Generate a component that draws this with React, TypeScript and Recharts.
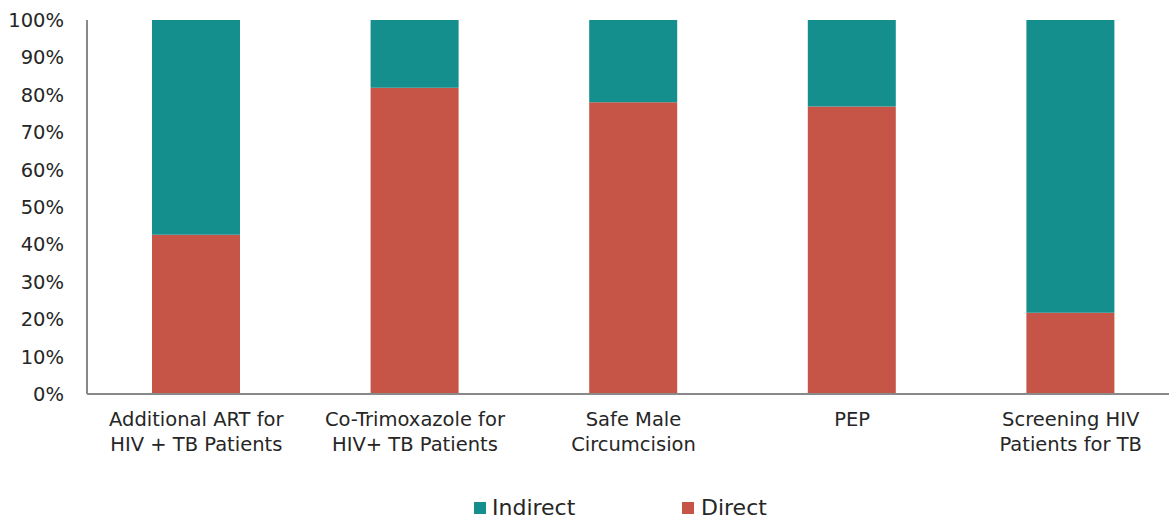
import React from "react";
import { BarChart, Bar, XAxis, YAxis, Legend } from "recharts";

const categories = [
    "Additional ART for\nHIV + TB Patients",
    "Co-Trimoxazole for\nHIV+ TB Patients",
    "Safe Male\nCircumcision",
    "PEP",
    "Screening HIV\nPatients for TB",
];
const direct = [42.6, 81.9, 78.0, 76.9, 21.7];
const indirect = [57.4, 18.1, 22.0, 23.1, 78.3];
const yTicks = [0, 10, 20, 30, 40, 50, 60, 70, 80, 90, 100];

const data = categories.map((name, i) => ({ name, direct: direct[i], indirect: indirect[i] }));

const FONT = "'DejaVu Sans', sans-serif";

const CategoryTick = (props: any) => {
    const { x, y, payload } = props;
    const lines = String(payload.value).split("\n");
    return (
        <text x={x} y={y} textAnchor="middle" fill="#262626" fontSize={19.5} fontFamily={FONT}>
            {lines.map((l, i) => (
                <tspan key={i} x={x} dy={i === 0 ? 24 : 25}>{l}</tspan>
            ))}
        </text>
    );
};

const App = () => {
    return (
        <div style={{ position: "absolute", left: 0, top: 0, width: 1169, height: 521, overflow: "hidden", background: "#fff" }}>
            <BarChart
                width={1180}
                height={521}
                data={data}
                margin={{ top: 20, right: 0, left: 0, bottom: 0 }}
                barSize={88}
            >
                <XAxis
                    dataKey="name"
                    interval={0}
                    tickLine={false}
                    axisLine={{ stroke: "#898989", strokeWidth: 2 }}
                    tick={<CategoryTick />}
                    height={93}
                />
                <YAxis
                    domain={[0, 100]}
                    ticks={yTicks}
                    tickFormatter={(v) => `${v}%`}
                    width={87}
                    tickLine={false}
                    tickSize={0}
                    tickMargin={23}
                    axisLine={{ stroke: "#898989", strokeWidth: 2 }}
                    tick={{ fontSize: 19.5, fill: "#262626", fontFamily: FONT }}
                />
                <Legend
                    verticalAlign="bottom"
                    align="left"
                    height={34}
                    content={() => (
                        <div style={{ position: "relative", height: 34, fontFamily: FONT, fontSize: 22, color: "#262626" }}>
                            <span style={{ position: "absolute", left: 474, top: 8, display: "flex", alignItems: "center" }}>
                                <span style={{ width: 12, height: 12, background: "#158E8E", marginRight: 6 }} />Indirect
                            </span>
                            <span style={{ position: "absolute", left: 682, top: 8, display: "flex", alignItems: "center" }}>
                                <span style={{ width: 12, height: 12, background: "#C65548", marginRight: 7 }} />Direct
                            </span>
                        </div>
                    )}
                />
                <Bar dataKey="direct" name="Direct" stackId="a" fill="#C65548" isAnimationActive={false} />
                <Bar dataKey="indirect" name="Indirect" stackId="a" fill="#158E8E" isAnimationActive={false} />
            </BarChart>
        </div>
    );
};

export default App;
